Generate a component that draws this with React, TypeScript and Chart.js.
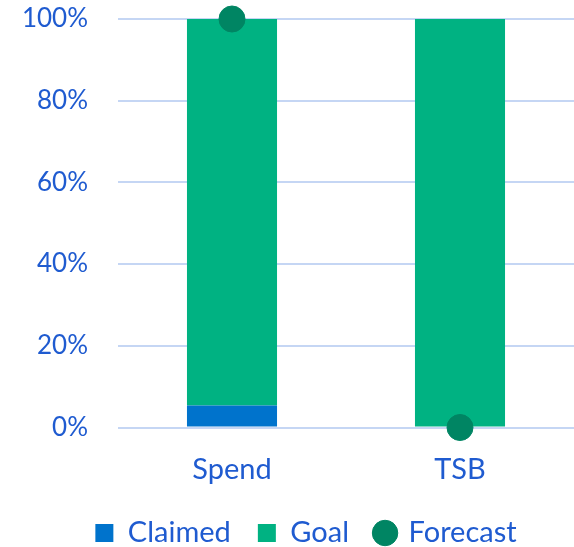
import React, { useEffect, useRef } from "react";
import { Chart, registerables } from "chart.js";

Chart.register(...registerables);

const categories = ["Spend", "TSB"];
const claimed = [5.4, 0];
const goal = [94.6, 100];
const forecast = [100, 0];
const yTicks = [0, 20, 40, 60, 80, 100];

const TEXT = "#1F5BD0";
const FONT = "Lato, 'Noto Sans', sans-serif";

const shiftLegend = {
  id: "shiftLegend",
  afterLayout(chart: any) {
    const lg = chart.legend;
    if (lg) {
      lg.left += 19;
      lg.right += 19;
    }
  },
};

export default function App() {
  const ref = useRef<HTMLCanvasElement | null>(null);
  useEffect(() => {
    const ctx = ref.current!;
    const chart = new Chart(ctx, {
      type: "bar",
      data: {
        labels: categories,
        datasets: [
          { label: "Claimed", data: claimed, backgroundColor: "#0073CC", pointStyle: "rect", stack: "s", order: 1, barPercentage: 0.79, categoryPercentage: 0.5 },
          { label: "Goal", data: goal, backgroundColor: "#00B282", pointStyle: "rect", stack: "s", order: 1, barPercentage: 0.79, categoryPercentage: 0.5 },
          {
            type: "line",
            label: "Forecast",
            data: forecast,
            showLine: false,
            backgroundColor: "#008563",
            borderColor: "#008563",
            pointBackgroundColor: "#008563",
            pointBorderColor: "#008563",
            pointRadius: 13,
            pointHoverRadius: 13,
            pointStyle: "circle",
            stack: "f",
            order: 0,
            clip: false,
          } as any,
        ],
      },
      options: {
        animation: false,
        responsive: false,
        maintainAspectRatio: false,
        layout: { autoPadding: false, padding: { top: 19, right: 0, left: 0, bottom: -10.5 } },
        scales: {
          x: {
            stacked: true,
            grid: { display: true, color: "rgba(0,0,0,0)", drawTicks: true, tickLength: 25, tickColor: "rgba(0,0,0,0)" },
            border: { display: false },
            ticks: { color: TEXT, font: { family: FONT, size: 29 }, padding: 0 },
            afterFit: (axis: any) => {
              axis.height = 64;
            },
          },
          y: {
            stacked: true,
            min: 0,
            max: 100,
            afterBuildTicks: (axis: any) => {
              axis.ticks = yTicks.map((v) => ({ value: v }));
            },
            grid: { color: "#C5D6F4", lineWidth: 2, drawTicks: true, tickLength: 30, tickColor: "rgba(0,0,0,0)" },
            border: { display: false },
            ticks: {
              color: TEXT,
              font: { family: FONT, size: 26 },
              padding: 0,
              callback: (v: any) => v + "%",
            },
            afterFit: (axis: any) => {
              axis.width = 118;
            },
          },
        },
        plugins: {
          tooltip: { enabled: false },
          legend: {
            position: "bottom",
            labels: {
              usePointStyle: true,
              boxHeight: 18,
              boxWidth: 18,
              padding: 27,
              color: TEXT,
              font: { family: FONT, size: 29 },
              sort: (a: any, b: any) => a.datasetIndex - b.datasetIndex,
            },
          },
        },
      },
      plugins: [shiftLegend],
    });
    return () => chart.destroy();
  }, []);
  return (
    <div style={{ position: "fixed", left: 0, top: 0, width: 574, height: 547, background: "#fff" }}>
      <canvas ref={ref} width={574} height={547} style={{ width: 574, height: 547 }} />
    </div>
  );
}
